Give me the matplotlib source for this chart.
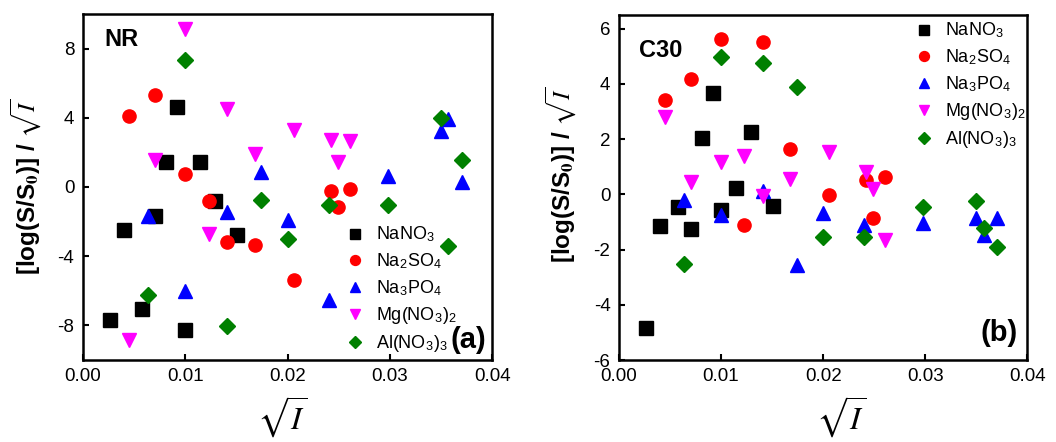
import numpy as np
import matplotlib
matplotlib.use("Agg")
import matplotlib.pyplot as plt

plt.rcParams['font.family'] = ['Liberation Sans', 'DejaVu Sans']
plt.rcParams['mathtext.fontset'] = 'stix'

salts = ["NaNO$_\\mathregular{3}$", "Na$_\\mathregular{2}$SO$_\\mathregular{4}$",
         "Na$_\\mathregular{3}$PO$_\\mathregular{4}$", "Mg(NO$_\\mathregular{3}$)$_\\mathregular{2}$",
         "Al(NO$_\\mathregular{3}$)$_\\mathregular{3}$"]
markers = ['s', 'o', '^', 'v', 'D']
colors = ['black', 'red', 'blue', 'magenta', 'green']

# sqrt(I) values
x_nano3 = [0.00267, 0.00407, 0.00576, 0.00706, 0.00813, 0.00917, 0.0100, 0.0115, 0.0129, 0.0151]
x_na2so4 = [0.00452, 0.00709, 0.0100, 0.0123, 0.0141, 0.0168, 0.0206, 0.0242, 0.0249, 0.0261]
x_na3po4 = [0.0064, 0.0100, 0.0141, 0.0174, 0.0200, 0.0240, 0.0298, 0.0350, 0.0357, 0.0370]
x_mg = [0.00452, 0.00709, 0.0100, 0.0123, 0.0141, 0.0168, 0.0206, 0.0242, 0.0249, 0.0261]
x_al = [0.0064, 0.0100, 0.0141, 0.0174, 0.0200, 0.0240, 0.0298, 0.0350, 0.0357, 0.0370]

# (a) NR
nr_nano3 = [-7.67, -2.47, -7.06, -1.70, 1.43, 4.63, -8.25, 1.43, -0.79, -2.80]
nr_na2so4 = [4.09, 5.34, 0.77, -0.83, -3.18, -3.34, -5.36, -0.21, -1.18, -0.12]
nr_na3po4 = [-1.66, -6.03, -1.45, 0.87, -1.89, -6.52, 0.62, 3.26, 3.95, 0.27]
nr_mg = [-8.87, 1.58, 9.10, -2.72, 4.51, 1.93, 3.28, 2.70, 1.45, 2.64]
nr_al = [-6.27, 7.36, -8.02, -0.73, -2.99, -1.02, -1.02, 3.99, -3.43, 1.58]

# (b) C30
c30_nano3 = [-4.83, -1.16, -0.46, -1.26, 2.04, 3.68, -0.58, 0.23, 2.25, -0.41]
c30_na2so4 = [3.41, 4.16, 5.61, -1.10, 5.53, 1.65, -0.04, 0.53, -0.86, 0.62]
c30_na3po4 = [-0.19, -0.74, 0.13, -2.55, -0.68, -1.10, -1.04, -0.86, -1.46, -0.86]
c30_mg = [2.79, 0.44, 1.16, 1.38, -0.07, 0.56, 1.52, 0.80, 0.19, -1.65]
c30_al = [-2.52, 4.98, 4.77, 3.89, -1.56, -1.56, -0.47, -0.23, -1.22, -1.89]

xs = [x_nano3, x_na2so4, x_na3po4, x_mg, x_al]
nr = [nr_nano3, nr_na2so4, nr_na3po4, nr_mg, nr_al]
c30 = [c30_nano3, c30_na2so4, c30_na3po4, c30_mg, c30_al]
sizes = [9.5, 9.5, 10, 10, 8.5]

W, H = 1056, 442
fig = plt.figure(figsize=(W / 100, H / 100), dpi=100)
ax1 = fig.add_axes([0.0783, 0.1855, 0.388, 0.783])
ax2 = fig.add_axes([0.586, 0.1855, 0.387, 0.781])


def panel(ax, ys, ylim, yticks, name, name_pos, tag, tag_pos, leg_px, ylab_xy, xlab_xy):
    for x, y, m, c, lab, ms in zip(xs, ys, markers, colors, salts, sizes):
        ax.plot(x, y, linestyle='none', marker=m, color=c, markersize=ms, label=lab)
    ax.set_xlim(0, 0.04)
    ax.set_ylim(*ylim)
    ax.set_xticks([0.00, 0.01, 0.02, 0.03, 0.04])
    ax.set_xticklabels(['0.00', '0.01', '0.02', '0.03', '0.04'])
    ax.set_yticks(yticks)
    ax.set_yticklabels([str(t) for t in yticks])
    ax.tick_params(direction='in', length=4, width=1.5, labelsize=13.5, pad=6)
    for s in ax.spines.values():
        s.set_linewidth(1.8)
    ax.set_xlabel(r'$\sqrt{I}$', fontsize=23, va='bottom')
    ax.xaxis.set_label_coords(*xlab_xy)
    ax.set_ylabel(r'[log(S/S$_\mathbf{0}$)] / $\sqrt{I}$', fontsize=17.5, fontweight='bold')
    ax.yaxis.set_label_coords(*ylab_xy)
    ax.text(name_pos[0], name_pos[1], name, transform=ax.transAxes, fontsize=17, fontweight='bold', va='center')
    ax.text(tag_pos[0], tag_pos[1], tag, transform=ax.transAxes, fontsize=21, fontweight='bold',
            ha='right', va='center')
    ax.legend(loc='upper left', bbox_to_anchor=(leg_px[0] / W, 1 - leg_px[1] / H),
              bbox_transform=fig.transFigure, frameon=False, fontsize=13, markerscale=0.75,
              handlelength=1.0, handletextpad=0.65, labelspacing=0.4, borderpad=0, borderaxespad=0)


panel(ax1, nr, (-10, 10), [-8, -4, 0, 4, 8], 'NR', (0.052, 0.925), '(a)', (0.985, 0.058),
      (346, 225), (-0.097, 0.5), (0.486, -0.231))
panel(ax2, c30, (-6, 6.5), [-6, -4, -2, 0, 2, 4, 6], 'C30', (0.05, 0.898), '(b)', (0.976, 0.078),
      (915, 21), (-0.1, 0.536), (0.543, -0.232))

fig.savefig('out.png', dpi=100)
